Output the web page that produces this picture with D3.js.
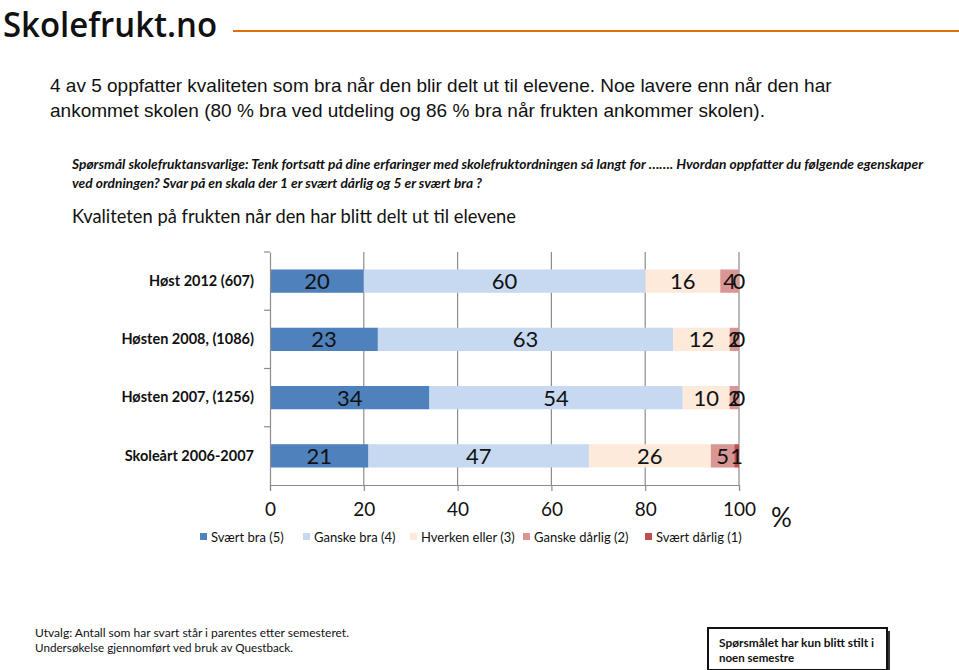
<!DOCTYPE html>
<html><head><meta charset="utf-8">
<script src="https://cdn.jsdelivr.net/npm/d3@7"></script>
<style>body{margin:0;background:#fff}svg{display:block}</style>
</head><body><svg id="c" width="959" height="670"></svg>
<script>
const categories = ["Høst 2012 (607)", "Høsten 2008, (1086)", "Høsten 2007, (1256)", "Skoleårt 2006-2007"];
const seriesNames = ["Svært bra (5)", "Ganske bra (4)", "Hverken eller (3)", "Ganske dårlig (2)", "Svært dårlig (1)"];
const svaertBra = [20, 23, 34, 21];
const ganskeBra = [60, 63, 54, 47];
const hverken = [16, 12, 10, 26];
const ganskeDarlig = [4, 2, 2, 5];
const svaertDarlig = [0, 0, 0, 1];
const xTicks = [0, 20, 40, 60, 80, 100];
const colors = ["#4F81BD", "#C6D9F1", "#FDEADA", "#D99694", "#C0504D"];

const seriesValues = [svaertBra, ganskeBra, hverken, ganskeDarlig, svaertDarlig];
const svg = d3.select("#c");
const font = "Lato, 'Open Sans', sans-serif";

// Header
svg.append("text").attr("x", 3).attr("y", 37).attr("font-family", "'Open Sans', sans-serif")
  .attr("font-weight", 600).attr("font-size", 34.5).attr("textLength", 214).attr("lengthAdjust", "spacingAndGlyphs")
  .attr("fill", "#111").text("Skolefrukt.no");
svg.append("line").attr("x1", 233).attr("x2", 959).attr("y1", 31).attr("y2", 31)
  .attr("stroke", "#E46C0A").attr("stroke-width", 2);

svg.append("text").attr("x", 50).attr("y", 92).attr("font-family", "Arial, 'Liberation Sans', sans-serif")
  .attr("font-size", 19).attr("fill", "#111")
  .text("4 av 5 oppfatter kvaliteten som bra når den blir delt ut til elevene. Noe lavere enn når den har");
svg.append("text").attr("x", 50).attr("y", 117).attr("font-family", "Arial, 'Liberation Sans', sans-serif")
  .attr("font-size", 19).attr("fill", "#111")
  .text("ankommet skolen (80 % bra ved utdeling og 86 % bra når frukten ankommer skolen).");

svg.append("text").attr("x", 72).attr("y", 169).attr("font-family", font).attr("font-style", "italic")
  .attr("font-weight", 700).attr("font-size", 12.5).attr("fill", "#111").attr("textLength", 851).attr("lengthAdjust", "spacingAndGlyphs")
  .text("Spørsmål  skolefruktansvarlige:  Tenk fortsatt på dine erfaringer med skolefruktordningen så langt for ……. Hvordan oppfatter du følgende egenskaper");
svg.append("text").attr("x", 72).attr("y", 188).attr("font-family", font).attr("font-style", "italic")
  .attr("font-weight", 700).attr("font-size", 12.5).attr("fill", "#111").attr("textLength", 410).attr("lengthAdjust", "spacingAndGlyphs")
  .text("ved ordningen? Svar på en skala der 1 er svært dårlig og 5 er svært bra ?");

svg.append("text").attr("x", 72).attr("y", 223).attr("font-family", font)
  .attr("font-size", 19.5).attr("fill", "#111").attr("textLength", 444).attr("lengthAdjust", "spacingAndGlyphs")
  .text("Kvaliteten på frukten når den har blitt delt ut til elevene");

// Chart
const x = d3.scaleLinear().domain([0, 100]).range([270, 739]);
const y = d3.scaleBand().domain(categories).range([252, 485]).paddingInner(0.6).paddingOuter(0.3);
const yb = d3.scaleBand().domain(categories).range([252, 485]);

// gridlines
svg.append("g").selectAll("line").data(xTicks.filter(d => d > 0)).join("line")
  .attr("x1", d => x(d)).attr("x2", d => x(d)).attr("y1", 252).attr("y2", 485)
  .attr("stroke", "#8C8C8C").attr("stroke-width", 1.2);

// bars
const stacked = categories.map((c, i) => {
  let acc = 0;
  return seriesValues.map((s, k) => { const v = s[i]; const r = {c, k, v, x0: acc, x1: acc + v}; acc += v; return r; });
});
const gBars = svg.append("g");
stacked.forEach(row => {
  gBars.selectAll(null).data(row).join("rect")
    .attr("x", d => x(d.x0)).attr("width", d => x(d.x1) - x(d.x0))
    .attr("y", d => y(d.c)).attr("height", y.bandwidth())
    .attr("fill", d => colors[d.k]);
});
stacked.forEach(row => {
  gBars.selectAll(null).data(row).join("text")
    .attr("x", d => x((d.x0 + d.x1) / 2)).attr("y", d => y(d.c) + y.bandwidth() / 2 + 8)
    .attr("text-anchor", "middle").attr("font-family", font).attr("font-size", 22).attr("fill", "#111")
    .text(d => d.v);
});

// axes
const xAxis = svg.append("g").attr("transform", "translate(0,485)")
  .call(d3.axisBottom(x).tickValues(xTicks).tickSize(6).tickPadding(12));
xAxis.select(".domain").attr("stroke", "#8C8C8C").attr("stroke-width", 1.2);
xAxis.selectAll(".tick line").attr("stroke", "#8C8C8C").attr("stroke-width", 1.2);
xAxis.selectAll(".tick text").attr("font-family", font).attr("font-size", 19).attr("fill", "#111");

const yAxis = svg.append("g").attr("transform", "translate(270,0)")
  .call(d3.axisLeft(yb).tickSize(0).tickPadding(16));
yAxis.select(".domain").attr("stroke", "#8C8C8C").attr("stroke-width", 1.2);
yAxis.selectAll(".tick text").attr("font-family", font).attr("font-weight", 700).attr("font-size", 14.5).attr("fill", "#111");
svg.append("g").selectAll("line").data(categories).join("line")
  .attr("x1", 264).attr("x2", 270).attr("y1", d => yb(d)).attr("y2", d => yb(d))
  .attr("stroke", "#8C8C8C").attr("stroke-width", 1.2);

svg.append("text").attr("x", 771).attr("y", 527).attr("font-family", font).attr("font-size", 26)
  .attr("fill", "#111").text("%");

// legend
const legX = [200, 303, 410, 523, 645];
const leg = svg.append("g").selectAll("g").data(seriesNames).join("g")
  .attr("transform", (d, i) => `translate(${legX[i]},537)`);
leg.append("rect").attr("x", 0).attr("y", -4).attr("width", 7).attr("height", 7).attr("fill", (d, i) => colors[i]);
leg.append("text").attr("x", 11).attr("y", 4.5).attr("font-family", font).attr("font-size", 13).attr("fill", "#111").text(d => d);

// footer
svg.append("text").attr("x", 35).attr("y", 637).attr("font-family", font).attr("font-size", 11.5).attr("fill", "#111")
  .attr("textLength", 314).attr("lengthAdjust", "spacingAndGlyphs")
  .text("Utvalg:  Antall som har svart står i parentes etter semesteret.");
svg.append("text").attr("x", 35).attr("y", 652).attr("font-family", font).attr("font-size", 11.5).attr("fill", "#111")
  .attr("textLength", 258).attr("lengthAdjust", "spacingAndGlyphs")
  .text("Undersøkelse gjennomført ved bruk av Questback.");
svg.append("rect").attr("x", 711).attr("y", 631).attr("width", 179).attr("height", 42).attr("fill", "#333");
svg.append("rect").attr("x", 708).attr("y", 628).attr("width", 179).attr("height", 42).attr("fill", "#fff")
  .attr("stroke", "#111").attr("stroke-width", 2);
svg.append("text").attr("x", 719).attr("y", 647).attr("font-family", font).attr("font-weight", 700).attr("font-size", 11.5).attr("fill", "#111")
  .attr("textLength", 155).attr("lengthAdjust", "spacingAndGlyphs")
  .text("Spørsmålet har kun blitt stilt i");
svg.append("text").attr("x", 719).attr("y", 662).attr("font-family", font).attr("font-weight", 700).attr("font-size", 11.5).attr("fill", "#111")
  .text("noen semestre");
</script></body></html>
